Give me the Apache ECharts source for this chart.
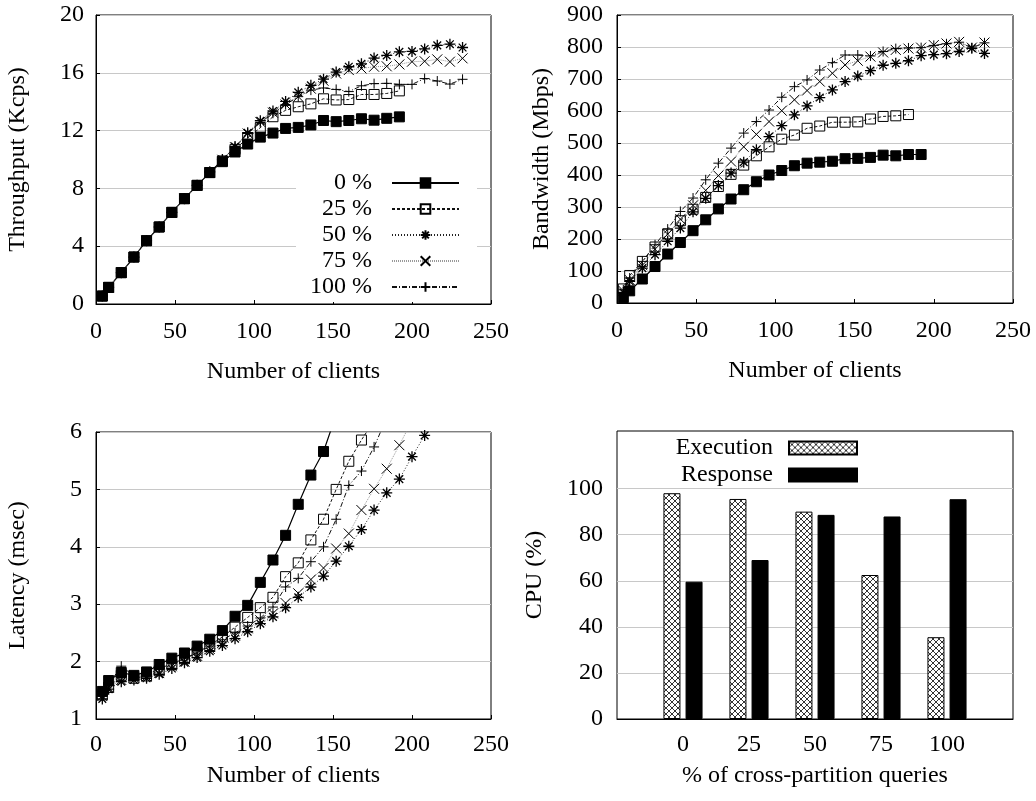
<!DOCTYPE html>
<html>
<head>
<meta charset="utf-8">
<script src="https://cdn.jsdelivr.net/npm/echarts@6/dist/echarts.min.js"></script>
<style>
  html, body { margin: 0; padding: 0; background: #fff; }
  #main { width: 1036px; height: 801px; }
</style>
</head>
<body>
<div id="main"></div>
<script>
// x values (number of clients) shared by the three line plots
var clients = [4, 8, 16, 24, 32, 40, 48, 56, 64, 72, 80, 88, 96, 104, 112, 120, 128, 136, 144, 152,
               160, 168, 176, 184, 192, 200, 208, 216, 224, 232];
var seriesNames = ['0 %', '25 %', '50 %', '75 %', '100 %'];

// throughput (Kcps)
var tput0   = [0.55, 1.15, 2.17, 3.25, 4.38, 5.33, 6.34, 7.29, 8.21, 9.09, 9.85, 10.52, 11.07, 11.55, 11.83, 12.15, 12.22, 12.39, 12.7, 12.62, 12.7, 12.82, 12.72, 12.85, 12.95];
var tput25  = [0.55, 1.15, 2.17, 3.25, 4.38, 5.33, 6.34, 7.29, 8.21, 9.1, 9.9, 10.7, 11.5, 12.2, 12.96, 13.4, 13.65, 13.85, 14.2, 14.12, 14.15, 14.5, 14.5, 14.57, 14.75];
var tput50  = [0.55, 1.15, 2.17, 3.25, 4.38, 5.33, 6.34, 7.29, 8.21, 9.15, 10.0, 10.9, 11.85, 12.68, 13.36, 14.02, 14.65, 15.13, 15.56, 16.05, 16.42, 16.62, 17.02, 17.2, 17.45, 17.48, 17.65, 17.9, 17.98, 17.75];
var tput75  = [0.55, 1.15, 2.17, 3.25, 4.38, 5.33, 6.34, 7.29, 8.21, 9.12, 9.98, 10.85, 11.8, 12.6, 13.24, 13.8, 14.35, 14.9, 15.45, 15.95, 16.19, 16.3, 16.42, 16.45, 16.58, 16.77, 16.8, 16.93, 16.77, 17.0];
var tput100 = [0.55, 1.15, 2.17, 3.25, 4.38, 5.33, 6.34, 7.29, 8.21, 9.12, 9.98, 10.85, 11.8, 12.55, 13.2, 13.8, 14.35, 14.8, 14.95, 14.85, 14.7, 15.1, 15.25, 15.27, 15.2, 15.2, 15.6, 15.43, 15.22, 15.55];

// bandwidth (Mbps)
var bw0   = [17, 38, 75, 114, 153, 189, 226, 260, 294, 325, 354, 379, 400, 414, 429, 437, 440, 443, 451, 452, 455, 462, 460, 464, 464];
var bw25  = [44, 86, 130, 175, 216, 257, 293, 330, 364, 402, 431, 460, 488, 512, 525, 546, 553, 565, 565, 566, 575, 583, 585, 589];
var bw50  = [33, 68, 109, 151, 193, 234, 285, 327, 367, 406, 440, 479, 520, 554, 588, 616, 642, 666, 692, 709, 726, 743, 749, 757, 773, 776, 779, 786, 796, 780];
var bw75  = [38, 72, 118, 168, 215, 262, 305, 352, 398, 442, 488, 527, 567, 601, 635, 664, 692, 718, 744, 757, 770, 783, 791, 795, 798, 806, 811, 816, 798, 814];
var bw100 = [41, 78, 130, 182, 231, 286, 328, 385, 437, 484, 531, 567, 603, 643, 676, 697, 728, 751, 775, 775, 772, 786, 795, 797, 798, 805, 810, 815, 797, 813];

// latency (msec)
var lat0   = [1.48, 1.67, 1.81, 1.76, 1.82, 1.95, 2.06, 2.15, 2.27, 2.39, 2.54, 2.79, 2.98, 3.38, 3.77, 4.2, 4.74, 5.25, 5.66, 6.3];
var lat25  = [1.42, 1.55, 1.76, 1.71, 1.75, 1.84, 1.95, 2.05, 2.16, 2.28, 2.43, 2.6, 2.77, 2.94, 3.12, 3.48, 3.72, 4.12, 4.48, 5.0, 5.49, 5.86, 6.2];
var lat50  = [1.35, 1.52, 1.65, 1.68, 1.71, 1.78, 1.88, 1.98, 2.07, 2.18, 2.28, 2.4, 2.52, 2.66, 2.78, 2.94, 3.12, 3.3, 3.49, 3.75, 4.01, 4.3, 4.64, 4.94, 5.18, 5.57, 5.94, 6.3];
var lat75  = [1.4, 1.55, 1.68, 1.72, 1.74, 1.8, 1.92, 2.0, 2.1, 2.22, 2.33, 2.45, 2.58, 2.72, 2.84, 3.02, 3.19, 3.43, 3.63, 3.97, 4.23, 4.64, 5.01, 5.36, 5.77, 6.2];
var lat100 = [1.42, 1.6, 1.92, 1.75, 1.78, 1.87, 1.97, 2.05, 2.15, 2.27, 2.38, 2.5, 2.62, 2.76, 2.95, 3.3, 3.45, 3.74, 4.0, 4.48, 5.07, 5.32, 5.74, 6.25];

// CPU usage (%) per share of cross-partition queries
var cpuCategories = ['0', '25', '50', '75', '100'];
var cpuExecution = [98, 95.5, 90, 62.5, 35.5];
var cpuResponse = [59.6, 69, 88.6, 87.9, 95.4];

var FONT = 'Liberation Serif';
var GRIDLINE = '#c8c8c8';

// line / marker style for each series (same order as seriesNames)
var lineStyles = [
  { color: '#000', width: 1.2, type: 'solid' },
  { color: '#111', width: 1, type: [3, 2] },
  { color: '#222', width: 1, type: [1, 2] },
  { color: '#999', width: 1, type: [1, 1] },
  { color: '#111', width: 1, type: [5, 2, 1, 2] }
];
var markers = [
  { symbol: 'rect', size: 10, fill: '#000', bw: 1 },
  { symbol: 'rect', size: 10, fill: 'none', bw: 1 },
  { symbol: 'path://M5,0L5,10M0,5L10,5M1.5,1.5L8.5,8.5M8.5,1.5L1.5,8.5', size: 11, fill: 'none', bw: 1.3 },
  { symbol: 'path://M0,0L10,10M10,0L0,10', size: 10, fill: 'none', bw: 1 },
  { symbol: 'path://M5,0L5,10M0,5L10,5', size: 10, fill: 'none', bw: 1 }
];

function pairs(values) {
  return values.map(function (v, i) { return [clients[i], v]; });
}

function lineSeries(idx, values, axisIndex) {
  var m = markers[idx];
  return {
    name: seriesNames[idx],
    type: 'line',
    xAxisIndex: axisIndex,
    yAxisIndex: axisIndex,
    data: pairs(values),
    symbol: m.symbol,
    symbolSize: m.size,
    showAllSymbol: true,
    clip: true,
    lineStyle: lineStyles[idx],
    itemStyle: { color: m.fill, borderColor: '#000', borderWidth: m.bw },
    emphasis: { disabled: true }
  };
}

// crosshatch pattern for the Execution bars
function hatch() {
  var c = document.createElement('canvas');
  c.width = 6; c.height = 6;
  var g = c.getContext('2d');
  g.fillStyle = '#fff';
  g.fillRect(0, 0, 6, 6);
  g.strokeStyle = '#000';
  g.lineWidth = 0.8;
  g.beginPath();
  g.moveTo(0, 0); g.lineTo(6, 6);
  g.moveTo(6, 0); g.lineTo(0, 6);
  g.stroke();
  return c;
}

var labelStyle = { fontFamily: FONT, fontSize: 24, color: '#000' };
var nameStyle = { fontFamily: FONT, fontSize: 24, color: '#000' };

function xValueAxis(gridIndex, labelMargin, nameGap) {
  return {
    type: 'value', gridIndex: gridIndex, min: 0, max: 250, interval: 50,
    name: 'Number of clients', nameLocation: 'middle', nameGap: nameGap, nameTextStyle: nameStyle,
    axisLine: { lineStyle: { color: '#000', width: 1 } },
    axisTick: { inside: true, length: 4, lineStyle: { color: '#000' } },
    axisLabel: Object.assign({ margin: labelMargin }, labelStyle),
    splitLine: { show: false }
  };
}

function yValueAxis(gridIndex, min, max, interval, name, nameGap, labelMargin) {
  return {
    type: 'value', gridIndex: gridIndex, min: min, max: max, interval: interval,
    name: name, nameLocation: 'middle', nameRotate: 90, nameGap: nameGap, nameTextStyle: nameStyle,
    axisLine: { lineStyle: { color: '#000', width: 1 } },
    axisTick: { inside: true, length: 4, lineStyle: { color: '#000' } },
    axisLabel: Object.assign({ margin: labelMargin }, labelStyle),
    splitLine: { show: true, lineStyle: { color: GRIDLINE, width: 1 } }
  };
}

var cpuAxisData = [''].concat(cpuCategories, ['']);
var execData = ['-'].concat(cpuExecution, ['-']);
var respData = ['-'].concat(cpuResponse, ['-']);

var cpuY = yValueAxis(3, 0, 125, 20, 'CPU (%)', 70, 14);
cpuY.axisLabel.formatter = function (v) { return v > 100 ? '' : v; };
cpuY.splitLine.lineStyle.color = [GRIDLINE, GRIDLINE, GRIDLINE, GRIDLINE, GRIDLINE, GRIDLINE, 'rgba(0,0,0,0)', 'rgba(0,0,0,0)'];

var option = {
  animation: false,
  backgroundColor: '#fff',
  textStyle: { fontFamily: FONT },
  grid: [
    { left: 96, top: 15, width: 395, height: 289, show: true, borderColor: '#000', borderWidth: 1 },
    { left: 617, top: 15, width: 396, height: 288, show: true, borderColor: '#000', borderWidth: 1 },
    { left: 96, top: 432, width: 395, height: 287, show: true, borderColor: '#000', borderWidth: 1 },
    { left: 617, top: 431, width: 396, height: 288, show: true, borderColor: '#000', borderWidth: 1 }
  ],
  legend: [
    {
      data: seriesNames,
      orient: 'vertical',
      align: 'right',
      right: 559,
      top: 166,
      padding: [5, 17, 3, 14],
      backgroundColor: '#fff',
      itemWidth: 67,
      itemHeight: 12,
      itemGap: 2,
      textStyle: { fontFamily: FONT, fontSize: 24, color: '#000', lineHeight: 24, padding: [0, 15, 0, 0] }
    },
    {
      data: ['Execution', 'Response'],
      orient: 'vertical',
      align: 'right',
      right: 178,
      top: 436,
      padding: 0,
      icon: 'rect',
      itemWidth: 68,
      itemHeight: 13,
      itemGap: 3,
      textStyle: { fontFamily: FONT, fontSize: 24, color: '#000', lineHeight: 24, padding: [0, 11, 0, 0] }
    }
  ],
  xAxis: [
    xValueAxis(0, 16, 56),
    xValueAxis(1, 16, 56),
    xValueAxis(2, 14, 45),
    {
      type: 'category', gridIndex: 3, data: cpuAxisData, boundaryGap: false,
      name: '% of cross-partition queries', nameLocation: 'middle', nameGap: 45, nameTextStyle: nameStyle,
      axisLine: { lineStyle: { color: '#000', width: 1 } },
      axisTick: { show: false },
      axisLabel: Object.assign({ margin: 14, interval: 0 }, labelStyle),
      splitLine: { show: false }
    }
  ],
  yAxis: [
    yValueAxis(0, 0, 20, 4, 'Throughput (Kcps)', 66, 12),
    yValueAxis(1, 0, 900, 100, 'Bandwidth (Mbps)', 63, 14),
    yValueAxis(2, 1, 6, 1, 'Latency (msec)', 66, 14),
    cpuY
  ],
  series: [
    lineSeries(0, tput0, 0), lineSeries(1, tput25, 0), lineSeries(2, tput50, 0), lineSeries(3, tput75, 0), lineSeries(4, tput100, 0),
    lineSeries(0, bw0, 1), lineSeries(1, bw25, 1), lineSeries(2, bw50, 1), lineSeries(3, bw75, 1), lineSeries(4, bw100, 1),
    lineSeries(0, lat0, 2), lineSeries(1, lat25, 2), lineSeries(2, lat50, 2), lineSeries(3, lat75, 2), lineSeries(4, lat100, 2),
    {
      name: 'Execution', type: 'bar', xAxisIndex: 3, yAxisIndex: 3, data: execData,
      barWidth: 17, barGap: '30%',
      itemStyle: { color: { image: hatch(), repeat: 'repeat' }, borderColor: '#000', borderWidth: 1 },
      emphasis: { disabled: true }
    },
    {
      name: 'Response', type: 'bar', xAxisIndex: 3, yAxisIndex: 3, data: respData,
      barWidth: 17, barGap: '30%',
      itemStyle: { color: '#000', borderColor: '#000', borderWidth: 1 },
      emphasis: { disabled: true }
    }
  ]
};

var chart = echarts.init(document.getElementById('main'));
chart.setOption(option);
window.addEventListener('resize', function () { chart.resize(); });
</script>
</body>
</html>
